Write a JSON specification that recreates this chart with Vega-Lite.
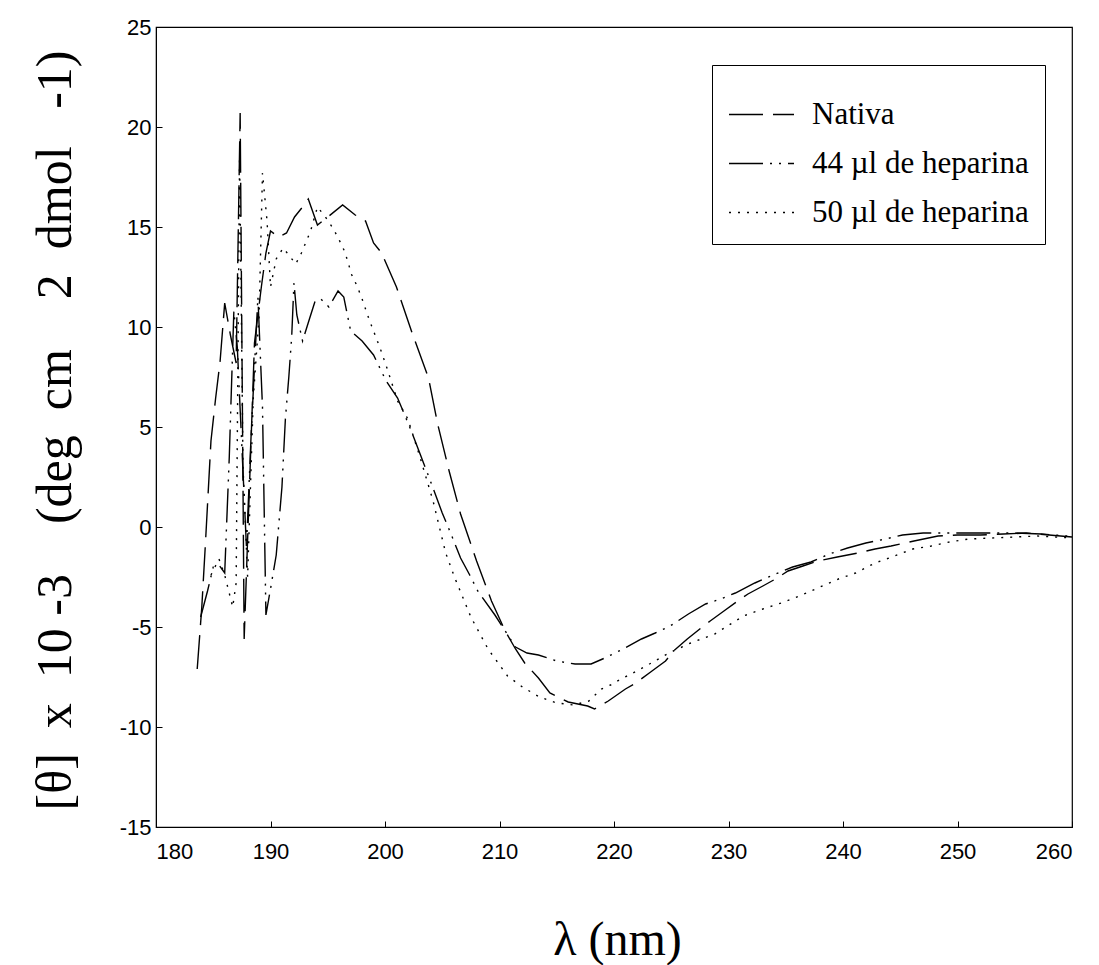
{
  "$schema": "https://vega.github.io/schema/vega-lite/v6.json",
  "width": 916,
  "height": 800,
  "autosize": {"type": "none"},
  "padding": {"left": 156, "top": 27, "right": 27, "bottom": 138},
  "background": "white",
  "config": {
    "view": {"stroke": "black", "strokeWidth": 1.2},
    "axis": {
      "grid": false,
      "domainColor": "black",
      "tickColor": "black",
      "labelColor": "black",
      "titleColor": "black",
      "labelFont": "Liberation Sans",
      "labelFontSize": 22,
      "titleFontWeight": "normal"
    }
  },
  "data": {
    "values": [
      {"serie": "Nativa", "nm": 183.6, "theta": -7.1},
      {"serie": "Nativa", "nm": 184.0, "theta": -4.0},
      {"serie": "Nativa", "nm": 184.3, "theta": -1.0},
      {"serie": "Nativa", "nm": 184.8, "theta": 4.3},
      {"serie": "Nativa", "nm": 185.2, "theta": 6.4},
      {"serie": "Nativa", "nm": 185.6, "theta": 8.3},
      {"serie": "Nativa", "nm": 186.0, "theta": 11.2},
      {"serie": "Nativa", "nm": 186.5, "theta": 9.6},
      {"serie": "Nativa", "nm": 187.0, "theta": 8.2},
      {"serie": "Nativa", "nm": 187.35, "theta": 20.7},
      {"serie": "Nativa", "nm": 187.7, "theta": -5.6},
      {"serie": "Nativa", "nm": 188.1, "theta": 1.0},
      {"serie": "Nativa", "nm": 188.6, "theta": 9.2},
      {"serie": "Nativa", "nm": 189.2, "theta": 12.0},
      {"serie": "Nativa", "nm": 189.6, "theta": 13.7},
      {"serie": "Nativa", "nm": 190.0, "theta": 14.8},
      {"serie": "Nativa", "nm": 190.7, "theta": 14.5},
      {"serie": "Nativa", "nm": 191.4, "theta": 14.7},
      {"serie": "Nativa", "nm": 192.1, "theta": 15.5},
      {"serie": "Nativa", "nm": 192.8, "theta": 16.0},
      {"serie": "Nativa", "nm": 193.3, "theta": 16.4},
      {"serie": "Nativa", "nm": 194.1, "theta": 15.1},
      {"serie": "Nativa", "nm": 195.0, "theta": 15.5},
      {"serie": "Nativa", "nm": 196.3, "theta": 16.1},
      {"serie": "Nativa", "nm": 197.4, "theta": 15.6},
      {"serie": "Nativa", "nm": 198.3, "theta": 15.3},
      {"serie": "Nativa", "nm": 199.0, "theta": 14.2},
      {"serie": "Nativa", "nm": 199.7, "theta": 13.7},
      {"serie": "Nativa", "nm": 201.0, "theta": 12.0},
      {"serie": "Nativa", "nm": 202.4, "theta": 9.65},
      {"serie": "Nativa", "nm": 203.8, "theta": 7.45},
      {"serie": "Nativa", "nm": 204.6, "theta": 5.15},
      {"serie": "Nativa", "nm": 205.6, "theta": 2.8},
      {"serie": "Nativa", "nm": 206.6, "theta": 0.65},
      {"serie": "Nativa", "nm": 208.0, "theta": -1.7},
      {"serie": "Nativa", "nm": 209.3, "theta": -3.7},
      {"serie": "Nativa", "nm": 210.5, "theta": -5.2},
      {"serie": "Nativa", "nm": 211.4, "theta": -6.1},
      {"serie": "Nativa", "nm": 212.2, "theta": -6.8},
      {"serie": "Nativa", "nm": 213.4, "theta": -7.55},
      {"serie": "Nativa", "nm": 214.4, "theta": -8.3},
      {"serie": "Nativa", "nm": 216.0, "theta": -8.75},
      {"serie": "Nativa", "nm": 217.7, "theta": -8.95},
      {"serie": "Nativa", "nm": 218.3, "theta": -9.1},
      {"serie": "Nativa", "nm": 219.5, "theta": -8.7},
      {"serie": "Nativa", "nm": 221.0, "theta": -8.1},
      {"serie": "Nativa", "nm": 221.9, "theta": -7.8},
      {"serie": "Nativa", "nm": 223.2, "theta": -7.25},
      {"serie": "Nativa", "nm": 224.5, "theta": -6.7},
      {"serie": "Nativa", "nm": 225.2, "theta": -6.2},
      {"serie": "Nativa", "nm": 226.4, "theta": -5.6},
      {"serie": "Nativa", "nm": 227.6, "theta": -5.05},
      {"serie": "Nativa", "nm": 228.4, "theta": -4.7},
      {"serie": "Nativa", "nm": 229.6, "theta": -4.2},
      {"serie": "Nativa", "nm": 230.8, "theta": -3.7},
      {"serie": "Nativa", "nm": 231.7, "theta": -3.35},
      {"serie": "Nativa", "nm": 233.0, "theta": -2.95},
      {"serie": "Nativa", "nm": 234.1, "theta": -2.6},
      {"serie": "Nativa", "nm": 235.2, "theta": -2.2},
      {"serie": "Nativa", "nm": 236.5, "theta": -1.95},
      {"serie": "Nativa", "nm": 237.8, "theta": -1.7},
      {"serie": "Nativa", "nm": 239.5, "theta": -1.5},
      {"serie": "Nativa", "nm": 241.3, "theta": -1.3},
      {"serie": "Nativa", "nm": 242.8, "theta": -1.1},
      {"serie": "Nativa", "nm": 244.2, "theta": -0.95},
      {"serie": "Nativa", "nm": 246.2, "theta": -0.7},
      {"serie": "Nativa", "nm": 248.3, "theta": -0.45},
      {"serie": "Nativa", "nm": 250.0, "theta": -0.4},
      {"serie": "Nativa", "nm": 252.0, "theta": -0.4},
      {"serie": "Nativa", "nm": 254.0, "theta": -0.35},
      {"serie": "Nativa", "nm": 256.0, "theta": -0.3},
      {"serie": "Nativa", "nm": 258.0, "theta": -0.4},
      {"serie": "Nativa", "nm": 260.0, "theta": -0.5},

      {"serie": "44 µl de heparina", "nm": 183.9, "theta": -4.5},
      {"serie": "44 µl de heparina", "nm": 184.5, "theta": -3.2},
      {"serie": "44 µl de heparina", "nm": 185.0, "theta": -2.0},
      {"serie": "44 µl de heparina", "nm": 185.5, "theta": -1.9},
      {"serie": "44 µl de heparina", "nm": 186.0, "theta": -2.3},
      {"serie": "44 µl de heparina", "nm": 186.4, "theta": 3.5},
      {"serie": "44 µl de heparina", "nm": 186.8, "theta": 10.8},
      {"serie": "44 µl de heparina", "nm": 187.1, "theta": 9.0},
      {"serie": "44 µl de heparina", "nm": 187.5, "theta": 4.0},
      {"serie": "44 µl de heparina", "nm": 187.9, "theta": -1.0},
      {"serie": "44 µl de heparina", "nm": 188.3, "theta": 4.5},
      {"serie": "44 µl de heparina", "nm": 188.9, "theta": 11.5},
      {"serie": "44 µl de heparina", "nm": 189.3, "theta": 6.0},
      {"serie": "44 µl de heparina", "nm": 189.6, "theta": -4.4},
      {"serie": "44 µl de heparina", "nm": 190.0, "theta": -3.1},
      {"serie": "44 µl de heparina", "nm": 190.5, "theta": -1.4},
      {"serie": "44 µl de heparina", "nm": 191.0, "theta": 2.0},
      {"serie": "44 µl de heparina", "nm": 191.3, "theta": 5.4},
      {"serie": "44 µl de heparina", "nm": 191.6, "theta": 7.5},
      {"serie": "44 µl de heparina", "nm": 191.85, "theta": 9.5},
      {"serie": "44 µl de heparina", "nm": 192.05, "theta": 12.2},
      {"serie": "44 µl de heparina", "nm": 192.3, "theta": 10.6},
      {"serie": "44 µl de heparina", "nm": 192.8, "theta": 9.3},
      {"serie": "44 µl de heparina", "nm": 193.4, "theta": 10.4},
      {"serie": "44 µl de heparina", "nm": 193.9, "theta": 11.3},
      {"serie": "44 µl de heparina", "nm": 194.4, "theta": 11.4},
      {"serie": "44 µl de heparina", "nm": 195.1, "theta": 11.0},
      {"serie": "44 µl de heparina", "nm": 195.9, "theta": 11.8},
      {"serie": "44 µl de heparina", "nm": 196.4, "theta": 11.5},
      {"serie": "44 µl de heparina", "nm": 197.0, "theta": 9.8},
      {"serie": "44 µl de heparina", "nm": 198.0, "theta": 9.3},
      {"serie": "44 µl de heparina", "nm": 199.0, "theta": 8.6},
      {"serie": "44 µl de heparina", "nm": 200.1, "theta": 7.3},
      {"serie": "44 µl de heparina", "nm": 201.1, "theta": 6.45},
      {"serie": "44 µl de heparina", "nm": 202.3, "theta": 4.8},
      {"serie": "44 µl de heparina", "nm": 203.1, "theta": 3.6},
      {"serie": "44 µl de heparina", "nm": 203.9, "theta": 2.4},
      {"serie": "44 µl de heparina", "nm": 205.0, "theta": 0.7},
      {"serie": "44 µl de heparina", "nm": 205.8, "theta": -0.4},
      {"serie": "44 µl de heparina", "nm": 206.6, "theta": -1.55},
      {"serie": "44 µl de heparina", "nm": 207.4, "theta": -2.4},
      {"serie": "44 µl de heparina", "nm": 208.1, "theta": -3.2},
      {"serie": "44 µl de heparina", "nm": 209.6, "theta": -4.4},
      {"serie": "44 µl de heparina", "nm": 210.5, "theta": -5.2},
      {"serie": "44 µl de heparina", "nm": 211.4, "theta": -6.0},
      {"serie": "44 µl de heparina", "nm": 212.4, "theta": -6.3},
      {"serie": "44 µl de heparina", "nm": 213.4, "theta": -6.4},
      {"serie": "44 µl de heparina", "nm": 215.0, "theta": -6.7},
      {"serie": "44 µl de heparina", "nm": 216.6, "theta": -6.85},
      {"serie": "44 µl de heparina", "nm": 218.0, "theta": -6.85},
      {"serie": "44 µl de heparina", "nm": 219.2, "theta": -6.55},
      {"serie": "44 µl de heparina", "nm": 220.8, "theta": -6.1},
      {"serie": "44 µl de heparina", "nm": 222.4, "theta": -5.6},
      {"serie": "44 µl de heparina", "nm": 223.6, "theta": -5.3},
      {"serie": "44 µl de heparina", "nm": 224.9, "theta": -4.95},
      {"serie": "44 µl de heparina", "nm": 226.5, "theta": -4.35},
      {"serie": "44 µl de heparina", "nm": 228.0, "theta": -3.85},
      {"serie": "44 µl de heparina", "nm": 229.3, "theta": -3.6},
      {"serie": "44 µl de heparina", "nm": 230.6, "theta": -3.3},
      {"serie": "44 µl de heparina", "nm": 232.3, "theta": -2.8},
      {"serie": "44 µl de heparina", "nm": 234.1, "theta": -2.35},
      {"serie": "44 µl de heparina", "nm": 235.6, "theta": -2.0},
      {"serie": "44 µl de heparina", "nm": 237.2, "theta": -1.75},
      {"serie": "44 µl de heparina", "nm": 238.8, "theta": -1.35},
      {"serie": "44 µl de heparina", "nm": 240.4, "theta": -1.05},
      {"serie": "44 µl de heparina", "nm": 242.0, "theta": -0.8},
      {"serie": "44 µl de heparina", "nm": 243.7, "theta": -0.6},
      {"serie": "44 µl de heparina", "nm": 245.2, "theta": -0.4},
      {"serie": "44 µl de heparina", "nm": 247.0, "theta": -0.3},
      {"serie": "44 µl de heparina", "nm": 249.0, "theta": -0.3},
      {"serie": "44 µl de heparina", "nm": 251.0, "theta": -0.3},
      {"serie": "44 µl de heparina", "nm": 253.0, "theta": -0.3},
      {"serie": "44 µl de heparina", "nm": 255.0, "theta": -0.3},
      {"serie": "44 µl de heparina", "nm": 257.3, "theta": -0.35},
      {"serie": "44 µl de heparina", "nm": 259.6, "theta": -0.45},
      {"serie": "44 µl de heparina", "nm": 260.0, "theta": -0.5},

      {"serie": "50 µl de heparina", "nm": 184.8, "theta": -2.4},
      {"serie": "50 µl de heparina", "nm": 185.5, "theta": -1.6},
      {"serie": "50 µl de heparina", "nm": 186.0, "theta": -2.4},
      {"serie": "50 µl de heparina", "nm": 186.7, "theta": -4.0},
      {"serie": "50 µl de heparina", "nm": 187.0, "theta": -2.8},
      {"serie": "50 µl de heparina", "nm": 187.3, "theta": 18.5},
      {"serie": "50 µl de heparina", "nm": 187.6, "theta": 3.0},
      {"serie": "50 µl de heparina", "nm": 188.0, "theta": -2.5},
      {"serie": "50 µl de heparina", "nm": 188.5, "theta": 6.5},
      {"serie": "50 µl de heparina", "nm": 189.0, "theta": 10.5},
      {"serie": "50 µl de heparina", "nm": 189.3, "theta": 17.7},
      {"serie": "50 µl de heparina", "nm": 189.7, "theta": 15.3},
      {"serie": "50 µl de heparina", "nm": 190.0, "theta": 12.0},
      {"serie": "50 µl de heparina", "nm": 190.5, "theta": 13.4},
      {"serie": "50 µl de heparina", "nm": 191.1, "theta": 13.95},
      {"serie": "50 µl de heparina", "nm": 191.6, "theta": 13.6},
      {"serie": "50 µl de heparina", "nm": 192.2, "theta": 13.15},
      {"serie": "50 µl de heparina", "nm": 192.7, "theta": 13.7},
      {"serie": "50 µl de heparina", "nm": 193.5, "theta": 14.8},
      {"serie": "50 µl de heparina", "nm": 194.1, "theta": 16.0},
      {"serie": "50 µl de heparina", "nm": 194.8, "theta": 15.5},
      {"serie": "50 µl de heparina", "nm": 195.5, "theta": 14.9},
      {"serie": "50 µl de heparina", "nm": 196.0, "theta": 14.35},
      {"serie": "50 µl de heparina", "nm": 196.5, "theta": 13.75},
      {"serie": "50 µl de heparina", "nm": 197.1, "theta": 12.6},
      {"serie": "50 µl de heparina", "nm": 197.6, "theta": 12.0},
      {"serie": "50 µl de heparina", "nm": 198.0, "theta": 11.4},
      {"serie": "50 µl de heparina", "nm": 198.6, "theta": 10.4},
      {"serie": "50 µl de heparina", "nm": 199.1, "theta": 9.65},
      {"serie": "50 µl de heparina", "nm": 199.6, "theta": 8.9},
      {"serie": "50 µl de heparina", "nm": 200.2, "theta": 7.9},
      {"serie": "50 µl de heparina", "nm": 201.1, "theta": 6.3},
      {"serie": "50 µl de heparina", "nm": 202.0, "theta": 5.4},
      {"serie": "50 µl de heparina", "nm": 203.0, "theta": 3.6},
      {"serie": "50 µl de heparina", "nm": 204.2, "theta": 1.3},
      {"serie": "50 µl de heparina", "nm": 205.3, "theta": -1.3},
      {"serie": "50 µl de heparina", "nm": 206.1, "theta": -2.55},
      {"serie": "50 µl de heparina", "nm": 207.5, "theta": -4.5},
      {"serie": "50 µl de heparina", "nm": 209.0, "theta": -6.1},
      {"serie": "50 µl de heparina", "nm": 210.7, "theta": -7.45},
      {"serie": "50 µl de heparina", "nm": 212.0, "theta": -8.0},
      {"serie": "50 µl de heparina", "nm": 213.5, "theta": -8.5},
      {"serie": "50 µl de heparina", "nm": 215.0, "theta": -8.8},
      {"serie": "50 µl de heparina", "nm": 216.5, "theta": -8.9},
      {"serie": "50 µl de heparina", "nm": 217.8, "theta": -8.7},
      {"serie": "50 µl de heparina", "nm": 218.9, "theta": -8.1},
      {"serie": "50 µl de heparina", "nm": 219.7, "theta": -7.9},
      {"serie": "50 µl de heparina", "nm": 220.6, "theta": -7.6},
      {"serie": "50 µl de heparina", "nm": 221.5, "theta": -7.35},
      {"serie": "50 µl de heparina", "nm": 223.1, "theta": -6.85},
      {"serie": "50 µl de heparina", "nm": 224.8, "theta": -6.3},
      {"serie": "50 µl de heparina", "nm": 226.7, "theta": -5.8},
      {"serie": "50 µl de heparina", "nm": 228.8, "theta": -5.35},
      {"serie": "50 µl de heparina", "nm": 231.3, "theta": -4.45},
      {"serie": "50 µl de heparina", "nm": 233.0, "theta": -4.1},
      {"serie": "50 µl de heparina", "nm": 234.6, "theta": -3.8},
      {"serie": "50 µl de heparina", "nm": 236.2, "theta": -3.45},
      {"serie": "50 µl de heparina", "nm": 237.8, "theta": -3.05},
      {"serie": "50 µl de heparina", "nm": 239.6, "theta": -2.6},
      {"serie": "50 µl de heparina", "nm": 241.1, "theta": -2.3},
      {"serie": "50 µl de heparina", "nm": 242.8, "theta": -1.8},
      {"serie": "50 µl de heparina", "nm": 244.5, "theta": -1.45},
      {"serie": "50 µl de heparina", "nm": 246.1, "theta": -1.1},
      {"serie": "50 µl de heparina", "nm": 247.7, "theta": -0.95},
      {"serie": "50 µl de heparina", "nm": 249.3, "theta": -0.75},
      {"serie": "50 µl de heparina", "nm": 251.0, "theta": -0.6},
      {"serie": "50 µl de heparina", "nm": 253.0, "theta": -0.55},
      {"serie": "50 µl de heparina", "nm": 255.0, "theta": -0.5},
      {"serie": "50 µl de heparina", "nm": 257.0, "theta": -0.45},
      {"serie": "50 µl de heparina", "nm": 260.0, "theta": -0.55}
    ]
  },
  "mark": {"type": "line", "color": "black", "strokeWidth": 1.4},
  "encoding": {
    "x": {
      "field": "nm",
      "type": "quantitative",
      "scale": {"domain": [180, 260], "nice": false, "zero": false},
      "axis": {
        "values": [180, 190, 200, 210, 220, 230, 240, 250, 260],
        "labelExpr": "'' + datum.value",
        "tickSize": -6,
        "labelPadding": 20,
        "title": "λ (nm)",
        "titleFont": "Liberation Serif",
        "titleFontSize": 48,
        "titleX": 461,
        "titleY": 113,
        "titleAlign": "center",
        "titleBaseline": "middle"
      }
    },
    "y": {
      "field": "theta",
      "type": "quantitative",
      "scale": {"domain": [-15, 25], "nice": false, "zero": false},
      "axis": {
        "values": [-15, -10, -5, 0, 5, 10, 15, 20, 25],
        "labelExpr": "'' + datum.value",
        "tickSize": -6,
        "labelPadding": 11,
        "title": "[θ]\u00a0\u00a0x\u00a0\u00a010\u00a0-3\u00a0\u00a0\u00a0\u00a0(deg\u00a0\u00a0cm\u00a0\u00a0\u00a0\u00a02\u00a0\u00a0dmol\u00a0\u00a0\u00a0-1)",
        "titleFont": "Liberation Serif",
        "titleFontSize": 50,
        "titleAngle": -90,
        "titleX": -101,
        "titleY": 403,
        "titleAlign": "center",
        "titleBaseline": "middle"
      }
    },
    "strokeDash": {
      "field": "serie",
      "type": "nominal",
      "scale": {
        "domain": ["Nativa", "44 µl de heparina", "50 µl de heparina"],
        "range": [[34, 10], [34, 7, 2, 7, 2, 7], [2, 7]]
      },
      "legend": {
        "title": null,
        "orient": "none",
        "legendX": 556,
        "legendY": 38,
        "padding": 16,
        "strokeColor": "black",
        "fillColor": "white",
        "symbolType": "stroke",
        "symbolSize": 4225,
        "symbolStrokeColor": "black",
        "symbolStrokeWidth": 1.4,
        "labelFont": "Liberation Serif",
        "labelFontSize": 31,
        "labelLimit": 0,
        "labelColor": "black",
        "labelOffset": 17,
        "rowPadding": 0
      }
    }
  }
}
